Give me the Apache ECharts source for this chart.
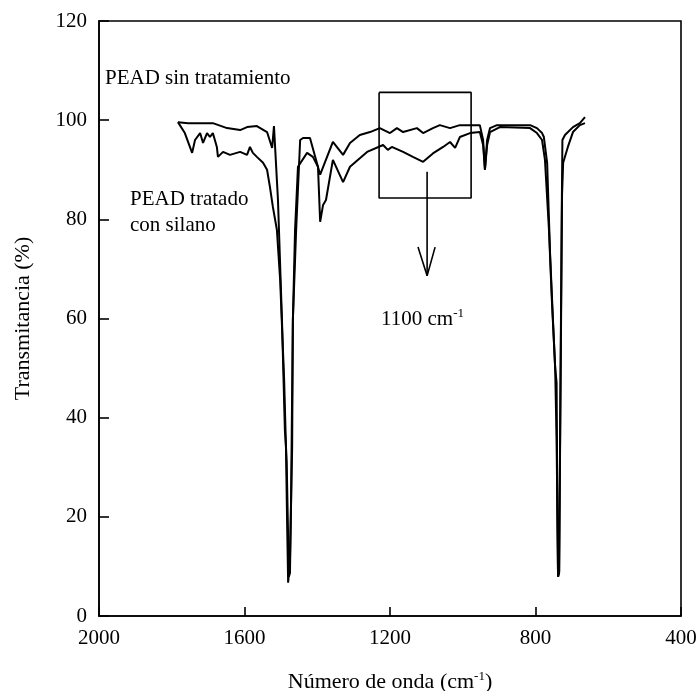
<!DOCTYPE html>
<html>
<head>
<meta charset="utf-8">
<script src="https://cdn.jsdelivr.net/npm/echarts@6/dist/echarts.min.js"></script>
<style>html,body{margin:0;padding:0;background:#fff}#c{width:699px;height:691px}</style>
</head>
<body>
<div id="c"></div>
<script>
// Wavenumber (cm-1), Transmittance (%)
const sinTratamiento = [
 [1783,99.6],[1755,99.4],[1687,99.4],[1648,98.4],[1612,98.0],[1593,98.6],[1566,98.8],[1538,97.6],
 [1524,94.4],[1519,98.8],[1508,83.9],[1497,59.7],[1489,37.5],[1486,34.1],[1483,19.4],[1480,6.7],
 [1475,11.3],[1469,34.1],[1467,59.7],[1458,77.9],[1447,96.0],[1439,96.4],[1420,96.4],[1392,89.0],
 [1357,95.6],[1329,93.0],[1310,95.4],[1283,97.0],[1255,97.6],[1228,98.4],[1200,97.4],[1181,98.4],
 [1164,97.6],[1126,98.4],[1109,97.4],[1082,98.4],[1063,99.0],[1035,98.4],[1008,99.0],[953,99.0],
 [944,96.0],[939,90.0],[933,96.0],[925,98.4],[906,99.0],[815,99.0],[796,98.4],[782,97.4],[779,97.6],
 [777,96.6],[768,91.4],[760,73.2],[752,59.7],[746,50.2],[742,47.0],[740,21.0],[738,7.9],[735,9.0],
 [732,40.0],[728,80.0],[726,96.0],[719,97.0],[697,98.6],[678,99.4],[664,100.6]
];
const tratadoSilano = [
 [1783,99.6],[1764,97.4],[1744,93.4],[1736,96.0],[1722,97.4],[1714,95.4],[1703,97.4],[1695,96.6],
 [1687,97.4],[1676,94.6],[1673,92.6],[1659,93.6],[1640,93.0],[1612,93.6],[1593,93.0],[1585,94.6],
 [1577,93.4],[1566,92.6],[1549,91.4],[1538,90.0],[1530,86.5],[1522,82.5],[1511,77.9],[1502,67.8],
 [1491,47.6],[1486,34.1],[1484,31.0],[1478,7.9],[1475,8.7],[1472,23.4],[1467,59.7],[1461,77.9],
 [1453,90.6],[1428,93.4],[1412,92.6],[1398,90.6],[1392,79.5],[1384,82.9],[1376,83.9],[1357,92.0],
 [1329,87.5],[1310,90.6],[1263,93.6],[1219,95.0],[1206,94.0],[1195,94.6],[1164,93.6],[1137,92.6],
 [1109,91.6],[1082,93.3],[1054,94.6],[1035,95.6],[1021,94.4],[1008,96.6],[980,97.4],[953,97.6],
 [944,95.0],[939,90.0],[933,95.0],[925,97.6],[898,98.6],[815,98.4],[796,97.4],[782,96.0],[774,92.0],
 [763,77.9],[755,63.7],[746,50.2],[742,35.5],[738,7.9],[735,8.7],[731,47.6],[727,85.0],[724,91.4],
 [711,94.6],[697,97.6],[678,99.0],[664,99.4]
];
// Annotation: box around 1100 cm-1 region and arrow
const boxCorners = [[1230,105.6],[977,105.6],[977,84.3],[1230,84.3],[1230,105.6]];
const arrowShaft = [[1098,89.6],[1098,68.6]];
const arrowHead = [[1123,74.4],[1098,68.6],[1076,74.4]];
const xTicks = [2000,1600,1200,800,400];
const yTicks = [0,20,40,60,80,100,120];

const FONT = '"Liberation Serif", "Times New Roman", serif';
const chart = echarts.init(document.getElementById('c'), null, {renderer:'canvas'});
const lineSeries = (name, data, w) => ({
  name, type:'line', data, showSymbol:false, symbol:'none', smooth:false,
  lineStyle:{color:'#000', width:w}, animation:false, z: 3
});
chart.setOption({
  backgroundColor:'#fff',
  animation:false,
  grid:{left:99, right:18, top:21, bottom:75, containLabel:false, outerBoundsMode:'none',
        show:true, borderColor:'#000', borderWidth:1.6},
  xAxis:{
    type:'value', min:400, max:2000, interval:400, inverse:true,
    name:'{a|Número de onda (cm}{s|-1}{a|)}', nameLocation:'middle', nameGap:54,
    nameTextStyle:{color:'#000', rich:{
      a:{fontFamily:FONT, fontSize:22, color:'#000'},
      s:{fontFamily:FONT, fontSize:13, color:'#000', padding:[0,0,12,0]}
    }},
    axisLine:{show:true, onZero:false, lineStyle:{color:'#000', width:1.6}},
    axisTick:{show:true, inside:true, length:9, lineStyle:{color:'#000', width:1.6}},
    splitLine:{show:false},
    axisLabel:{color:'#000', fontFamily:FONT, fontSize:21, margin:12,
      formatter: v => xTicks.includes(v) ? String(v) : ''}
  },
  yAxis:{
    type:'value', min:0, max:120, interval:20,
    name:'Transmitancia (%)', nameLocation:'middle', nameGap:65,
    nameTextStyle:{color:'#000', fontFamily:FONT, fontSize:22},
    axisLine:{show:true, onZero:false, lineStyle:{color:'#000', width:1.6}},
    axisTick:{show:true, inside:true, length:10, lineStyle:{color:'#000', width:1.6}},
    splitLine:{show:false},
    axisLabel:{color:'#000', fontFamily:FONT, fontSize:21, margin:12,
      formatter: v => yTicks.includes(v) ? String(v) : ''}
  },
  series:[
    lineSeries('PEAD sin tratamiento', sinTratamiento, 2),
    lineSeries('PEAD tratado con silano', tratadoSilano, 2),
    lineSeries('box', boxCorners, 1.6),
    lineSeries('arrowShaft', arrowShaft, 1.6),
    lineSeries('arrowHead', arrowHead, 1.6)
  ],
  graphic:[
    {type:'text', left:105, top:68, style:{text:'PEAD sin tratamiento', font:'21px '+FONT, fill:'#000'}},
    {type:'text', left:130, top:189, style:{text:'PEAD tratado', font:'21px '+FONT, fill:'#000'}},
    {type:'text', left:130, top:215, style:{text:'con silano', font:'21px '+FONT, fill:'#000'}},
    {type:'text', left:381, top:307, style:{
      text:'{a|1100 cm}{s|-1}', rich:{
        a:{fontFamily:FONT, fontSize:21, fill:'#000', color:'#000'},
        s:{fontFamily:FONT, fontSize:13, fill:'#000', color:'#000', padding:[0,0,12,0]}
      }}}
  ]
});
</script>
</body>
</html>
